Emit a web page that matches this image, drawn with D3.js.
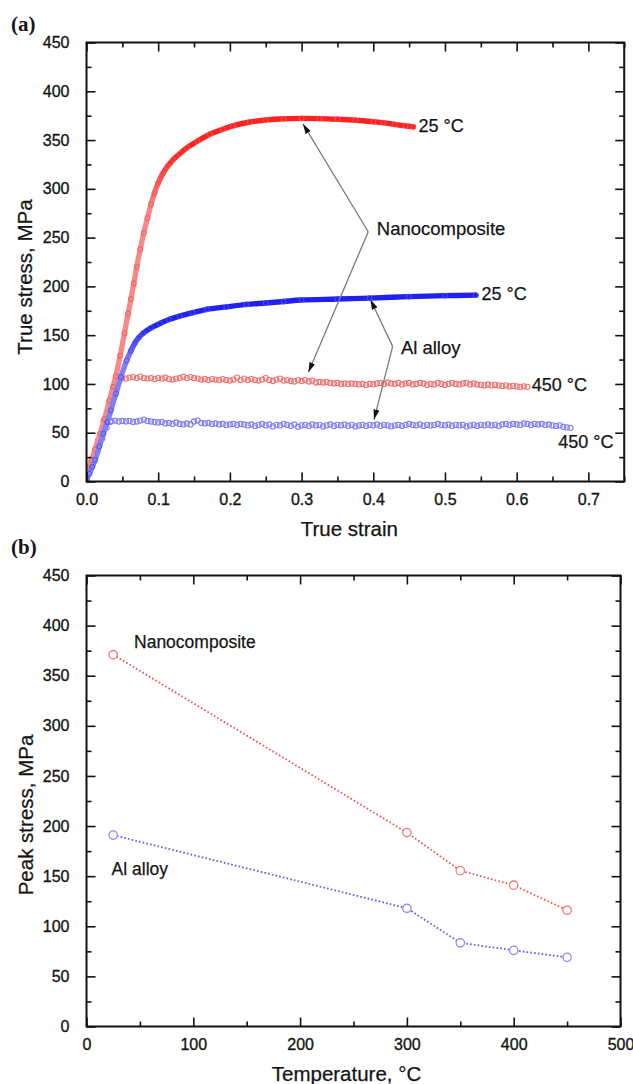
<!DOCTYPE html>
<html>
<head>
<meta charset="utf-8">
<script src="https://cdn.jsdelivr.net/npm/d3@7/dist/d3.min.js"></script>
<style>
  html, body { margin: 0; padding: 0; background: #fff; }
  svg { display: block; }
</style>
</head>
<body>
<svg id="fig" width="633" height="1084"></svg>
<script>
// ---------- (a) true stress–strain curves ----------
// [true strain, true stress (MPa)]
const nano25 = [
  [0, 5], [0.003, 14], [0.007, 22], [0.012, 33], [0.019, 49], [0.025, 64], [0.032, 83],
  [0.037, 97], [0.041, 108], [0.047, 129], [0.053, 152], [0.058, 172], [0.062, 187],
  [0.066, 203], [0.070, 220], [0.075, 238], [0.080, 255], [0.085, 270], [0.090, 284],
  [0.095, 296], [0.100, 306], [0.106, 315], [0.113, 323], [0.121, 330], [0.130, 336],
  [0.140, 342], [0.155, 349], [0.172, 356], [0.190, 361], [0.204, 364.5], [0.228, 368.5],
  [0.250, 370.5], [0.275, 371.8], [0.300, 372.2], [0.325, 372], [0.350, 371.3], [0.375, 370.3],
  [0.400, 368.8], [0.414, 367.8], [0.430, 366], [0.445, 364.5], [0.456, 363.5]
];
const alloy25 = [
  [0, 2], [0.004, 8], [0.008, 15], [0.012, 22], [0.018, 36], [0.0235, 49], [0.029, 61],
  [0.034, 73], [0.041, 90], [0.048, 107], [0.056, 124], [0.062, 134], [0.0676, 142],
  [0.073, 147.5], [0.079, 152], [0.090, 157.5], [0.1025, 162], [0.115, 166], [0.130, 169.5],
  [0.148, 173], [0.168, 176.5], [0.195, 179], [0.223, 181.5], [0.250, 183], [0.275, 184.5],
  [0.300, 186], [0.350, 187], [0.395, 188], [0.450, 189.5], [0.500, 190.5], [0.543, 191]
];
const nano450 = [
  [0, 4], [0.008, 22], [0.016, 42], [0.024, 62], [0.032, 82], [0.038, 96], [0.043, 104], [0.048, 107],
  [0.050, 106], [0.055, 105.5], [0.060, 106.5], [0.065, 107], [0.070, 106], [0.075, 107.5],
  [0.080, 106], [0.085, 105.5], [0.090, 106], [0.095, 105], [0.100, 106], [0.105, 105.5],
  [0.110, 106.5], [0.115, 105], [0.120, 104.5], [0.125, 105.5], [0.130, 106], [0.135, 107.5],
  [0.140, 106], [0.145, 107], [0.150, 106], [0.155, 105.5], [0.160, 104.5], [0.165, 105],
  [0.170, 104], [0.175, 105], [0.180, 104.5], [0.185, 104], [0.190, 105], [0.195, 104],
  [0.200, 103.5], [0.205, 104.5], [0.210, 106.5], [0.215, 104], [0.220, 105.5], [0.225, 104],
  [0.230, 105], [0.235, 104], [0.240, 103.5], [0.245, 104.5], [0.250, 106], [0.255, 104],
  [0.260, 103], [0.265, 104.5], [0.270, 105.5], [0.275, 103.5], [0.280, 104], [0.285, 103],
  [0.290, 102.5], [0.295, 104], [0.300, 103], [0.305, 104], [0.310, 102.5], [0.315, 103.5],
  [0.320, 101.5], [0.325, 102], [0.330, 101.5], [0.335, 102], [0.340, 101], [0.345, 100.5],
  [0.350, 101], [0.355, 100], [0.360, 100.5], [0.365, 100], [0.370, 100.5], [0.375, 100],
  [0.380, 99.5], [0.385, 100], [0.390, 99], [0.395, 100], [0.400, 99.5], [0.405, 100.5],
  [0.410, 101], [0.415, 100], [0.420, 101.5], [0.425, 100.5], [0.430, 100], [0.435, 101],
  [0.440, 99.5], [0.445, 100.5], [0.450, 101], [0.455, 99.5], [0.460, 100], [0.465, 101],
  [0.470, 100.5], [0.475, 99], [0.480, 100], [0.485, 99.5], [0.490, 101], [0.495, 100],
  [0.500, 99], [0.505, 100], [0.510, 101], [0.515, 100], [0.520, 99.5], [0.525, 100.5],
  [0.530, 101], [0.535, 99.5], [0.540, 100.5], [0.545, 99.5], [0.550, 99], [0.555, 98.5],
  [0.560, 99.5], [0.565, 98.5], [0.570, 99], [0.575, 98.5], [0.580, 98], [0.585, 98.5],
  [0.590, 97.5], [0.595, 98], [0.600, 97.5], [0.605, 97], [0.610, 97.5], [0.615, 97]
];
const alloy450 = [
  [0, 2], [0.008, 17], [0.016, 32], [0.022, 44], [0.028, 55], [0.033, 61],
  [0.035, 62], [0.040, 62.5], [0.045, 61.5], [0.050, 62], [0.055, 61.5], [0.060, 62],
  [0.065, 61], [0.070, 61.5], [0.075, 62.5], [0.080, 63.5], [0.085, 62], [0.090, 61.5],
  [0.095, 61], [0.100, 60.5], [0.105, 61], [0.110, 59.5], [0.115, 60], [0.120, 59],
  [0.125, 60.5], [0.130, 59], [0.135, 58.5], [0.140, 59.5], [0.145, 58.5], [0.150, 61.5],
  [0.155, 62.5], [0.160, 60], [0.165, 59.5], [0.170, 60], [0.175, 59], [0.180, 59.5],
  [0.185, 58.5], [0.190, 59], [0.195, 58], [0.200, 58.5], [0.205, 59], [0.210, 58],
  [0.215, 59], [0.220, 58.5], [0.225, 57.5], [0.230, 58.5], [0.235, 57], [0.240, 58],
  [0.245, 59], [0.250, 57.5], [0.255, 58.5], [0.260, 56.5], [0.265, 58], [0.270, 57.5],
  [0.275, 59], [0.280, 58], [0.285, 57], [0.290, 58.5], [0.295, 56], [0.300, 57.5],
  [0.305, 58], [0.310, 57], [0.315, 58.5], [0.320, 57.5], [0.325, 58], [0.330, 56.5],
  [0.335, 57.5], [0.340, 58.5], [0.345, 57], [0.350, 58], [0.355, 57.5], [0.360, 58.5],
  [0.365, 57], [0.370, 58], [0.375, 56.5], [0.380, 57.5], [0.385, 58], [0.390, 57],
  [0.395, 58], [0.400, 57.5], [0.405, 58.5], [0.410, 57], [0.415, 58], [0.420, 57.5],
  [0.425, 56.5], [0.430, 57.5], [0.435, 58], [0.440, 57], [0.445, 58], [0.450, 59],
  [0.455, 58], [0.460, 57.5], [0.465, 58.5], [0.470, 57], [0.475, 58], [0.480, 57.5],
  [0.485, 58], [0.490, 59], [0.495, 58], [0.500, 57.5], [0.505, 58.5], [0.510, 57],
  [0.515, 58], [0.520, 57.5], [0.525, 58], [0.530, 56.5], [0.535, 57.5], [0.540, 58],
  [0.545, 57], [0.550, 58], [0.555, 57.5], [0.560, 58.5], [0.565, 57.5], [0.570, 58],
  [0.575, 57], [0.580, 58.5], [0.585, 59], [0.590, 58], [0.595, 59], [0.600, 58.5],
  [0.605, 58], [0.610, 59.5], [0.615, 59], [0.620, 58], [0.625, 59], [0.630, 58.5],
  [0.635, 59], [0.640, 58], [0.645, 58.5], [0.650, 57.5], [0.655, 57], [0.660, 57.5],
  [0.665, 56], [0.670, 55.5], [0.675, 55]
];

const strainTicks = [0, 0.1, 0.2, 0.3, 0.4, 0.5, 0.6, 0.7];
const stressTicks = [0, 50, 100, 150, 200, 250, 300, 350, 400, 450];

// ---------- (b) peak stress vs temperature ----------
const temperatures = [25, 300, 350, 400, 450];
const peakNano = [371, 193.5, 155.5, 141, 116];
const peakAlloy = [191, 118, 83.5, 76, 69];
const tempTicks = [0, 100, 200, 300, 400, 500];

// ---------- drawing ----------
const FONT = '"Liberation Sans", Arial, Helvetica, sans-serif';
const INK = "#151515";
const svg = d3.select("#fig");

const defs = svg.append("defs");
defs.append("marker")
  .attr("id", "arrow")
  .attr("viewBox", "0 0 10 6")
  .attr("refX", 10).attr("refY", 3)
  .attr("markerWidth", 10).attr("markerHeight", 6)
  .attr("markerUnits", "userSpaceOnUse")
  .attr("orient", "auto")
  .append("path").attr("d", "M0,0 L10,3 L0,6 Z").attr("fill", "#111");

function styleTickText(sel) {
  sel.attr("font-size", 16).attr("fill", INK).attr("font-family", FONT)
    .attr("stroke", INK).attr("stroke-width", 0.35);
}

function frame(g, x, y, xTicks, xMinor, yTicks, yMinor, xFmt) {
  const [x0, x1] = x.range();
  const [y0, y1] = y.range();
  const major = 9, minor = 5;
  const add = (axis, tr) => {
    const a = g.append("g").attr("transform", tr).call(axis);
    a.select(".domain").remove();
    a.selectAll(".tick line").attr("stroke", "#111").attr("stroke-width", 1.6);
    return a;
  };
  // bottom
  const bx = add(d3.axisBottom(x).tickValues(xTicks).tickSize(-major).tickPadding(major + 3).tickFormat(xFmt), `translate(0,${y0})`);
  styleTickText(bx.selectAll(".tick text"));
  add(d3.axisBottom(x).tickValues(xMinor).tickSize(-minor).tickFormat(""), `translate(0,${y0})`);
  // top
  add(d3.axisTop(x).tickValues(xTicks).tickSize(-major).tickFormat(""), `translate(0,${y1})`);
  add(d3.axisTop(x).tickValues(xMinor).tickSize(-minor).tickFormat(""), `translate(0,${y1})`);
  // left
  const ly = add(d3.axisLeft(y).tickValues(yTicks).tickSize(-major).tickPadding(major + 8).tickFormat(d3.format("d")), `translate(${x0},0)`);
  styleTickText(ly.selectAll(".tick text"));
  add(d3.axisLeft(y).tickValues(yMinor).tickSize(-minor).tickFormat(""), `translate(${x0},0)`);
  // right
  add(d3.axisRight(y).tickValues(yTicks).tickSize(-major).tickFormat(""), `translate(${x1},0)`);
  add(d3.axisRight(y).tickValues(yMinor).tickSize(-minor).tickFormat(""), `translate(${x1},0)`);
  g.append("rect")
    .attr("x", x0).attr("y", y1)
    .attr("width", x1 - x0).attr("height", y0 - y1)
    .attr("fill", "none").attr("stroke", "#111").attr("stroke-width", 2);
}

function label(g, txt, x, y, size, opts = {}) {
  return g.append("text")
    .attr("x", x).attr("y", y)
    .attr("font-family", opts.family || FONT)
    .attr("font-size", size)
    .attr("font-weight", opts.weight || "normal")
    .attr("fill", opts.fill || INK)
    .attr("stroke", opts.weight ? null : INK).attr("stroke-width", opts.weight ? null : 0.25)
    .attr("text-anchor", opts.anchor || "start")
    .text(txt);
}

// ===== panel (a) =====
const ga = svg.append("g");
const xa = d3.scaleLinear().domain([0, 0.75]).range([86.5, 624.2]);
const ya = d3.scaleLinear().domain([0, 450]).range([481.5, 42.5]);

const clipA = defs.append("clipPath").attr("id", "clipA");
clipA.append("rect").attr("x", 86.5).attr("y", 42.5).attr("width", 624.2 - 86.5).attr("height", 481.5 - 42.5);
const plotA = ga.append("g").attr("clip-path", "url(#clipA)");

const lineA = d3.line().x(d => xa(d[0])).y(d => ya(d[1])).curve(d3.curveCatmullRom.alpha(0.5));

// On the steep loading branch the symbols are sparse and read lighter;
// on the hardening branch they pile up into a solid band.
function bandGradient(id, light, solid, fromMPa, toMPa) {
  const g = defs.append("linearGradient").attr("id", id)
    .attr("gradientUnits", "userSpaceOnUse")
    .attr("x1", 0).attr("x2", 0)
    .attr("y1", ya(fromMPa)).attr("y2", ya(toMPa));
  g.append("stop").attr("offset", 0).attr("stop-color", light);
  g.append("stop").attr("offset", 1).attr("stop-color", solid);
}
bandGradient("redBand", "#f68a8a", "#ff2020", 280, 335);
bandGradient("blueBand", "#8080f2", "#2020f0", 125, 158);

// room-temperature curves
function denseCurve(data, band, ring) {
  plotA.append("path").datum(data)
    .attr("d", lineA).attr("fill", "none")
    .attr("stroke", band).attr("stroke-width", 5.4).attr("stroke-linecap", "round");
  plotA.append("g").selectAll("circle").data(data).join("circle")
    .attr("cx", d => xa(d[0])).attr("cy", d => ya(d[1])).attr("r", 2.5)
    .attr("fill", "none").attr("stroke", ring).attr("stroke-width", 1);
}
// elevated-temperature curves: chains of open circles
function ringCurve(data, ring) {
  plotA.append("g").selectAll("circle").data(data).join("circle")
    .attr("cx", d => xa(d[0])).attr("cy", d => ya(d[1])).attr("r", 2.6)
    .attr("fill", "none").attr("stroke", ring).attr("stroke-width", 1.1);
}

ringCurve(nano450, "#f07070");
ringCurve(alloy450, "#7f7ff0");
denseCurve(nano25, "url(#redBand)", "#f25a5a");
denseCurve(alloy25, "url(#blueBand)", "#5050f0");

frame(ga, xa, ya, strainTicks, [0.05, 0.15, 0.25, 0.35, 0.45, 0.55, 0.65, 0.75],
  stressTicks, [25, 75, 125, 175, 225, 275, 325, 375, 425], d3.format(".1f"));

// annotation arrows
const callout = (g, x, y, vertex, tips) => {
  tips.forEach(t => {
    g.append("line")
      .attr("x1", x(vertex[0])).attr("y1", y(vertex[1]))
      .attr("x2", x(t[0])).attr("y2", y(t[1]))
      .attr("stroke", "#7a7a7a").attr("stroke-width", 1.3)
      .attr("marker-end", "url(#arrow)");
  });
};
callout(ga, xa, ya, [0.393, 256], [[0.302, 366.5], [0.3095, 112]]);
callout(ga, xa, ya, [0.427, 138.5], [[0.396, 186.5], [0.401, 63.5]]);

label(ga, "Nanocomposite", xa(0.405), ya(252.5), 18.5);
label(ga, "Al alloy", xa(0.4385), ya(131), 18.5);
label(ga, "25 °C", xa(0.463), ya(358), 18);
label(ga, "25 °C", xa(0.551), ya(186), 18);
label(ga, "450 °C", xa(0.621), ya(93), 18);
label(ga, "450 °C", xa(0.658), ya(34), 18);

label(ga, "True strain", (86.5 + 624.2) / 2 - 6, 536, 20.5, { anchor: "middle" });
label(ga, "True stress, MPa", 0, 0, 20.5, { anchor: "middle" })
  .attr("transform", "translate(32,277) rotate(-90)");
label(ga, "(a)", 11, 31, 21, { family: '"Liberation Serif", "Times New Roman", serif', weight: "bold" });

// ===== panel (b) =====
const gb = svg.append("g");
const xb = d3.scaleLinear().domain([0, 500]).range([86.5, 620.5]);
const yb = d3.scaleLinear().domain([0, 450]).range([1026.5, 575.5]);

frame(gb, xb, yb, tempTicks, [50, 150, 250, 350, 450],
  stressTicks, [25, 75, 125, 175, 225, 275, 325, 375, 425], d3.format("d"));

const lineB = d3.line().x(d => xb(d[0])).y(d => yb(d[1]));
function peakSeries(vals, dotColor, ringColor) {
  const pts = temperatures.map((t, i) => [t, vals[i]]);
  gb.append("path").datum(pts)
    .attr("d", lineB).attr("fill", "none")
    .attr("stroke", dotColor).attr("stroke-width", 1.8)
    .attr("stroke-dasharray", "1.6 2.2");
  gb.append("g").selectAll("circle").data(pts).join("circle")
    .attr("cx", d => xb(d[0])).attr("cy", d => yb(d[1])).attr("r", 4.2)
    .attr("fill", "#fff").attr("stroke", ringColor).attr("stroke-width", 1.3);
}
peakSeries(peakNano, "#f25050", "#f07a7a");
peakSeries(peakAlloy, "#5a5af2", "#8a8af2");

label(gb, "Nanocomposite", xb(44.5), yb(377.5), 17.5);
label(gb, "Al alloy", xb(23.5), yb(151.5), 17.5);

label(gb, "Temperature, °C", (86.5 + 620.5) / 2 - 7, 1081, 20.5, { anchor: "middle" });
label(gb, "Peak stress, MPa", 0, 0, 20.5, { anchor: "middle" })
  .attr("transform", "translate(33,815) rotate(-90)");
label(gb, "(b)", 11, 554, 21, { family: '"Liberation Serif", "Times New Roman", serif', weight: "bold" });
</script>
</body>
</html>
